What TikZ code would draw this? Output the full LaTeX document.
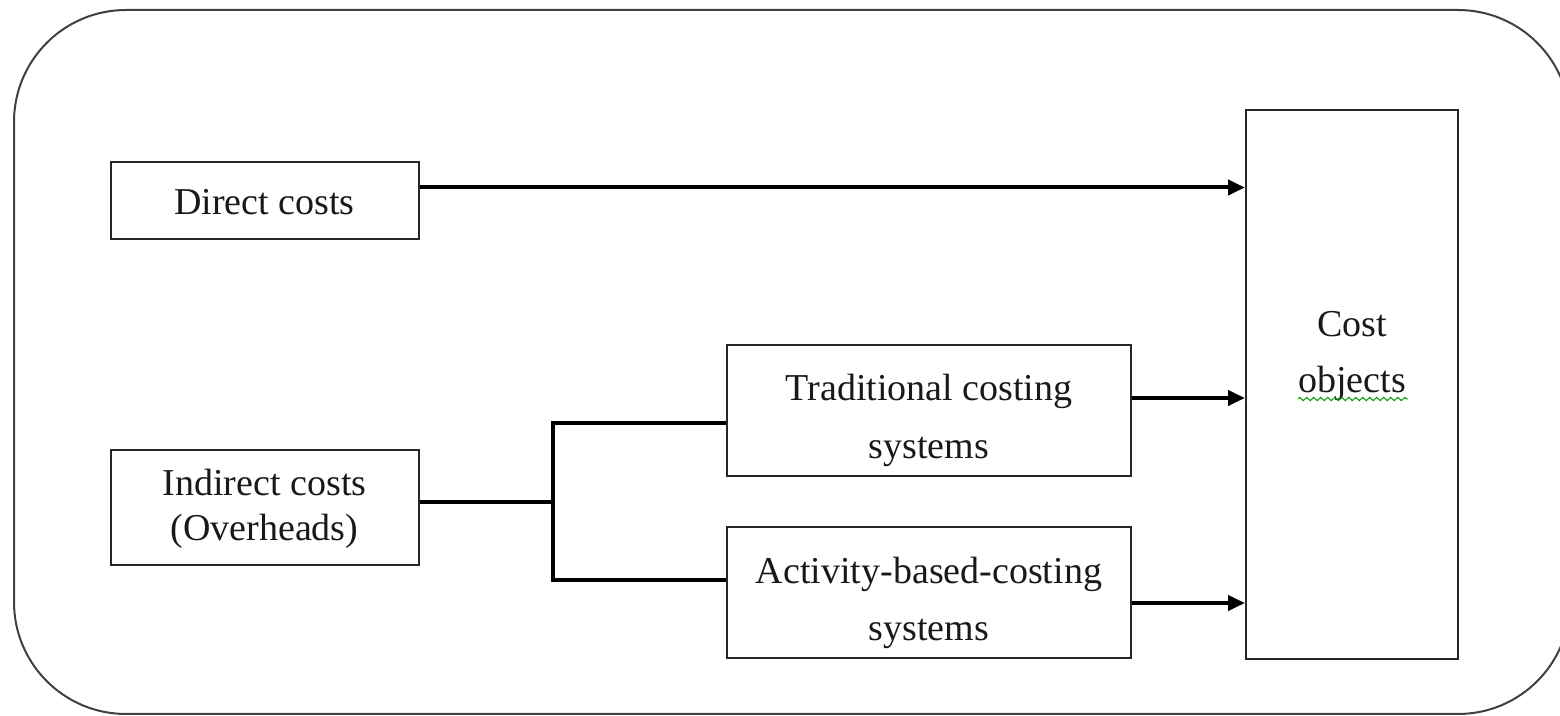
\documentclass[tikz,border=0pt]{standalone}
\usepackage{fontspec}
\setmainfont{Liberation Serif}
\usetikzlibrary{arrows.meta,decorations.pathmorphing}
\tikzset{
  box/.style={draw=black!85, line width=1pt, rectangle, inner sep=0pt},
  lbl/.style={align=center, inner sep=0pt, text=black!90},
  conn/.style={line width=2pt, black},
  arr/.style={conn, -{Triangle[length=8.5pt,width=7.5pt]}},
}
\begin{document}
\begin{tikzpicture}[x=0.5pt,y=-0.5pt]
\useasboundingbox (0,0) rectangle (1560,716);
\clip (0,0) rectangle (1560,716);
% outer frame
\draw[black!75, line width=1pt, rounded corners=56pt] (14,10) rectangle (1570,714);
% boxes
\node[box, minimum width=154pt, minimum height=38.5pt] (dc) at (264.5,200.5) {};
\node[box, minimum width=154pt, minimum height=57.5pt] (ic) at (264.5,507.5) {};
\node[box, minimum width=202pt, minimum height=65.5pt] (tr) at (929,410.5) {};
\node[box, minimum width=202pt, minimum height=65.5pt] (ab) at (929,592.5) {};
\node[box, minimum width=106pt, minimum height=274.5pt] (co) at (1352,384.5) {};
% labels
\node[lbl, font=\fontsize{19}{22.5}\selectfont] (dct) at (264.5,202.5) {Direct costs};
\node[lbl, font=\fontsize{19}{22.5}\selectfont] (ict) at (264.5,508.5) {Indirect costs\\(Overheads)};
\node[lbl, font=\fontsize{19}{29}\selectfont] (trt) at (929,420) {Traditional costing\\systems};
\node[lbl, font=\fontsize{19}{28.5}\selectfont] (abt) at (929,602.5) {Activity-based-costing\\systems};
\node[lbl, font=\fontsize{19}{28}\selectfont] (cot) at (1352,356) {Cost\\objects};
% spell-check squiggle
\draw[green!60!black, line width=0.5pt, decorate, decoration={zigzag, segment length=3.5pt, amplitude=0.8pt}]
  (1298,399) -- (1408,399);
% connectors
\coordinate (d1) at ([yshift=6.5pt]dc.east);
\draw[arr] (d1) -- (d1 -| co.west);
\coordinate (i1) at ([yshift=2.75pt]ic.east);
\coordinate (j) at (553,502);
\coordinate (t1) at ([yshift=-6.25pt]tr.west);
\coordinate (a1) at ([yshift=6.25pt]ab.west);
\draw[conn] (i1) -- (j);
\draw[conn] (t1) -| (j) |- (a1);
\coordinate (t2) at ([yshift=6.25pt]tr.east);
\coordinate (a2) at ([yshift=-5.25pt]ab.east);
\draw[arr] (t2) -- (t2 -| co.west);
\draw[arr] (a2) -- (a2 -| co.west);
\end{tikzpicture}
\end{document}
